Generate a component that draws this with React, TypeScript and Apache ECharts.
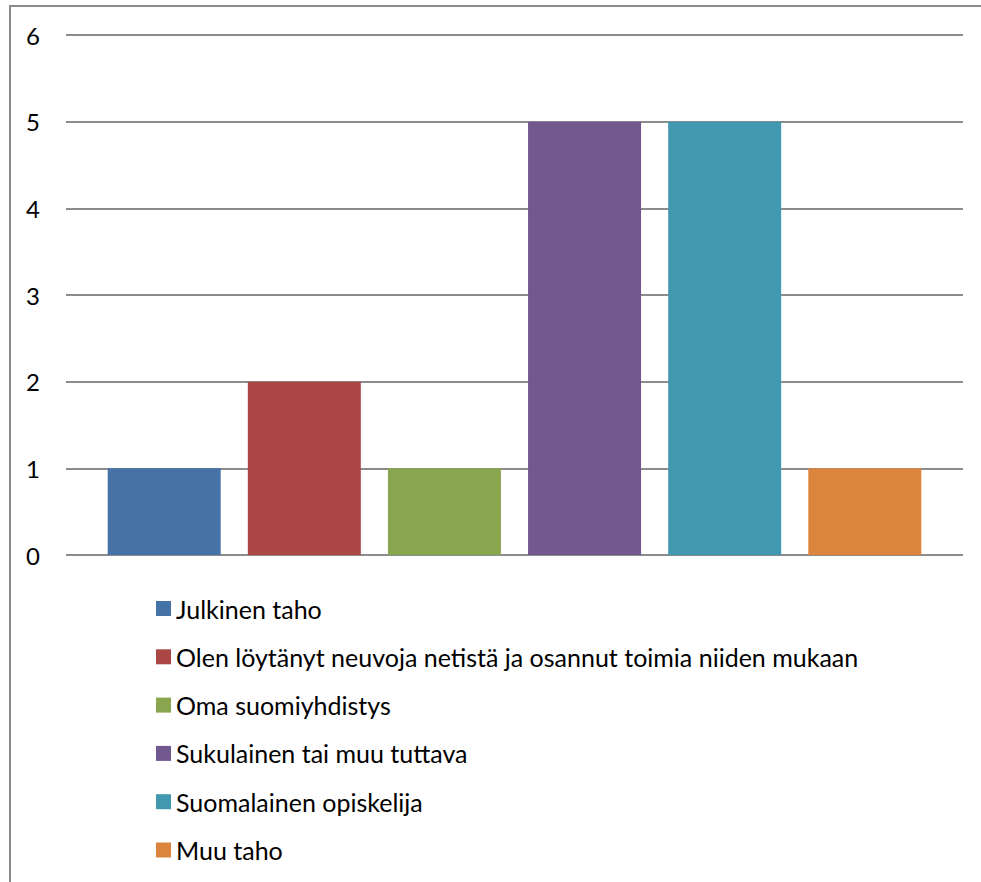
import React, { useEffect, useRef } from "react";
import * as echarts from "echarts";

const seriesNames = [
  "Julkinen taho",
  "Olen löytänyt neuvoja netistä ja osannut toimia niiden mukaan",
  "Oma suomiyhdistys",
  "Sukulainen tai muu tuttava",
  "Suomalainen opiskelija",
  "Muu taho",
];
const seriesValues = [1, 2, 1, 5, 5, 1];
const seriesColors = ["#4572A7", "#AA4643", "#89A54E", "#71588F", "#4198AF", "#DB843D"];
const categories = [""];

const FONT = "Lato, 'Noto Sans', sans-serif";

export default function App() {
  const ref = useRef<HTMLDivElement>(null);
  useEffect(() => {
    if (!ref.current) return;
    const chart = echarts.init(ref.current, undefined, { renderer: "svg" });
    chart.setOption({
      animation: false,
      backgroundColor: "#ffffff",
      textStyle: { fontFamily: FONT },
      graphic: [
        {
          type: "rect",
          shape: { x: 10, y: 6, width: 1000, height: 1000 },
          style: { fill: "none", stroke: "#8c8c8c", lineWidth: 2 },
          silent: true,
        },
      ],
      grid: { left: 66, right: 18, top: 35, bottom: 327, containLabel: false },
      legend: {
        orient: "vertical",
        left: 156,
        top: 596,
        padding: 0,
        itemWidth: 15,
        itemHeight: 15,
        itemGap: 23.3,
        icon: "rect",
        data: seriesNames,
        textStyle: { fontFamily: FONT, fontSize: 25, color: "#000", lineHeight: 24 },
      },
      xAxis: {
        type: "category",
        data: categories,
        axisLine: { show: false },
        axisTick: { show: false },
        axisLabel: { show: false },
      },
      yAxis: {
        type: "value",
        min: 0,
        max: 6,
        interval: 1,
        axisLine: { show: false },
        axisTick: { show: false },
        axisLabel: { color: "#000", fontSize: 24, fontFamily: FONT, margin: 26 },
        splitLine: { lineStyle: { color: "#8c8c8c", width: 2 } },
      },
      series: seriesNames.map((name, i) => ({
        type: "bar",
        name,
        data: [seriesValues[i]],
        barWidth: 113,
        barGap: "24%",
        itemStyle: { color: seriesColors[i] },
      })),
    });
    return () => chart.dispose();
  }, []);
  return (
    <div
      ref={ref}
      style={{ position: "absolute", left: 0, top: 0, width: 981, height: 882 }}
    />
  );
}
